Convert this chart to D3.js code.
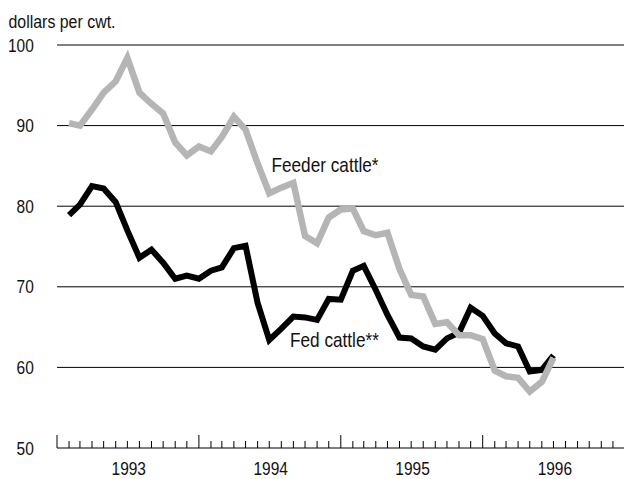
<!DOCTYPE html>
<html>
<head>
<meta charset="utf-8">
<script src="https://cdn.jsdelivr.net/npm/d3@7"></script>
<style>
  html, body { margin: 0; padding: 0; background: #fff; }
  svg { display: block; }
  text { font-family: "Liberation Sans", Arial, Helvetica, sans-serif; fill: #111; }
</style>
</head>
<body>
<svg id="chart" width="624" height="479"></svg>
<script>
// ---- data (monthly, Feb 1993 .. Jul 1996) ----
const startMonth = "1993-02";
const monthCount = 42;
const feederCattle = [
  90.3, 90.0, 92.0, 94.1, 95.5, 98.4, 94.1, 92.7, 91.5, 87.9, 86.3, 87.4,
  86.8, 88.6, 91.1, 89.5, 85.3, 81.6, 82.3, 82.9, 76.3, 75.4, 78.6, 79.6,
  79.7, 76.9, 76.4, 76.7, 72.2, 69.0, 68.8, 65.4, 65.6, 64.0, 64.0, 63.5,
  59.6, 58.9, 58.7, 57.0, 58.2, 61.2
];
const fedCattle = [
  78.9, 80.2, 82.5, 82.2, 80.5, 77.0, 73.6, 74.6, 73.0, 71.0, 71.4, 71.0,
  72.0, 72.4, 74.8, 75.1, 68.0, 63.4, 64.8, 66.3, 66.2, 65.9, 68.5, 68.4,
  72.0, 72.6, 69.6, 66.5, 63.7, 63.6, 62.6, 62.2, 63.6, 64.3, 67.4, 66.4,
  64.2, 63.0, 62.6, 59.5, 59.7, 61.5
];
const yTicks = [50, 60, 70, 80, 90, 100];
const yearLabels = ["1993", "1994", "1995", "1996"];
const yUnitLabel = "dollars per cwt.";
const seriesLabels = ["Feeder cattle*", "Fed cattle**"];

// ---- layout ----
const svg = d3.select("#chart");
const parseMonth = d3.timeParse("%Y-%m");
const first = parseMonth(startMonth);
const dates = d3.range(monthCount).map(i => d3.timeMonth.offset(first, i));

const x = d3.scaleTime()
  .domain([new Date(1993, 0, 1), new Date(1997, 0, 1)])
  .range([57, 625]);
const y = d3.scaleLinear().domain([50, 100]).range([448, 45]);

const SX = 0.86;
function label(sel, txt, px, py, size, anchor) {
  return sel.append("text")
    .attr("transform", `translate(${px},${py}) scale(${SX},1)`)
    .attr("text-anchor", anchor || "start")
    .style("font-size", size + "px")
    .text(txt);
}

// gridlines
svg.append("g").selectAll("line")
  .data(yTicks.filter(d => d > 50))
  .join("line")
  .attr("x1", 57).attr("x2", 624)
  .attr("y1", d => y(d)).attr("y2", d => y(d))
  .attr("stroke", "#000").attr("stroke-width", 1);

// y tick labels
yTicks.forEach(d => label(svg, String(d), 33.8, y(d) + 6.5, 18, "end"));
label(svg, yUnitLabel, 8.5, 28, 18.5, "start");

// x axis
svg.append("line")
  .attr("x1", 57).attr("x2", 624)
  .attr("y1", y(50)).attr("y2", y(50))
  .attr("stroke", "#000").attr("stroke-width", 1.2);

const allMonths = d3.timeMonth.range(new Date(1993, 0, 1), new Date(1997, 0, 1));
svg.append("g").selectAll("line")
  .data(allMonths)
  .join("line")
  .attr("x1", d => x(d)).attr("x2", d => x(d))
  .attr("y1", y(50))
  .attr("y2", d => y(50) - (d.getMonth() === 0 ? 13 : 7))
  .attr("stroke", "#000").attr("stroke-width", 1);

yearLabels.forEach(yr => {
  const mid = new Date(+yr, 6, 2);
  label(svg, yr, x(mid) + 1, 475, 18, "middle");
});

// lines
const line = d3.line()
  .x((d, i) => x(dates[i]))
  .y(d => y(d));

svg.append("path")
  .datum(fedCattle)
  .attr("d", line)
  .attr("fill", "none")
  .attr("stroke", "#000")
  .attr("stroke-width", 6)
  .attr("stroke-linejoin", "miter");

svg.append("path")
  .datum(feederCattle)
  .attr("d", line)
  .attr("fill", "none")
  .attr("stroke", "#b5b5b5")
  .attr("stroke-width", 6.5)
  .attr("stroke-linejoin", "miter");

// series labels
label(svg, seriesLabels[0], 271.5, 171.5, 20, "start");
label(svg, seriesLabels[1], 290, 347, 20, "start");
</script>
</body>
</html>
